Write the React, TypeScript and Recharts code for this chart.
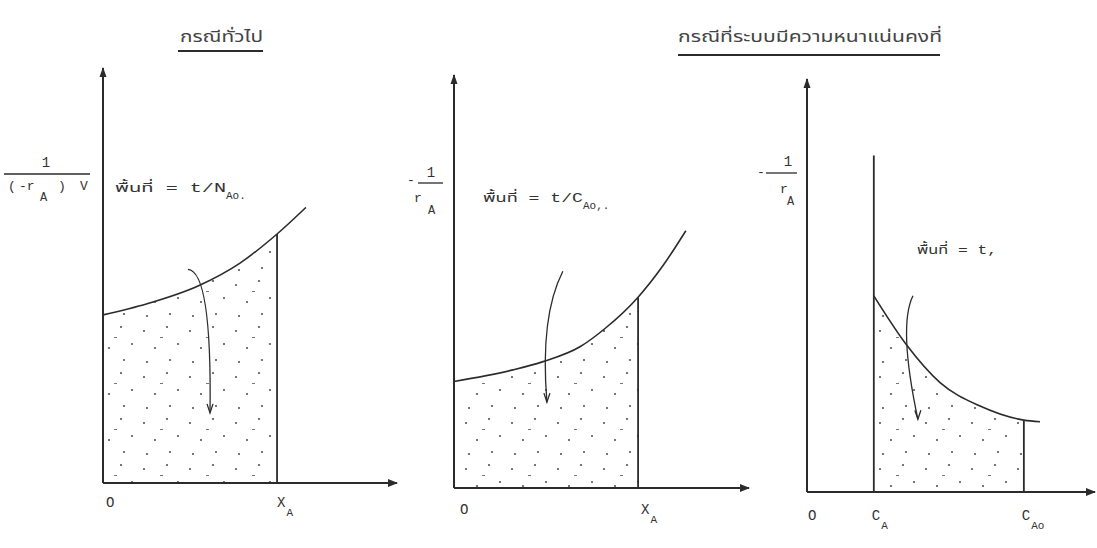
import React from 'react';
import { ComposedChart, Area, Line, XAxis, YAxis, ReferenceLine, ReferenceDot } from 'recharts';

const WIDTH = 1097;
const HEIGHT = 548;
const INK = '#2b2b2b';
const TEXT = '#333';
const MONO = '"Liberation Mono", "DejaVu Sans Mono", "Noto Sans Thai", monospace';
const AXIS_BAND = 30;

// General case: 1/((-rA)V) against conversion XA
const generalConversion = [0, 15, 32.7, 46.6, 59.2, 69];
const generalInvRate = [40.5, 43.2, 47.6, 53.0, 60.0, 66.4];
const generalXA = 59.2;
const generalTickValues = [0, generalXA];
const generalTickLabels = [['O'], ['X', 'A']];
const generalArrow = [
  { x: 28.9, y: 51.5 },
  { x: 36.4, y: 16.9 },
];

// Constant density: -1/rA against conversion XA
const densityConversion = [0, 20, 30.2, 42.7, 51.5, 62.4, 70.8, 78.6];
const densityInvRate = [25.8, 28.6, 30.6, 34.2, 38.8, 46.2, 53.8, 62.3];
const densityXA = 62.4;
const densityTickValues = [0, densityXA];
const densityTickLabels = [['O'], ['X', 'A']];
const densityArrow = [
  { x: 36.9, y: 52.5 },
  { x: 31.5, y: 20.8 },
];

// Constant density: -1/rA against concentration CA
const concValues = [23.2, 34.6, 46.2, 60.1, 75.3, 80.9];
const concInvRate = [47.5, 35.6, 26.5, 20.8, 17.4, 17.0];
const concCA = 23.2;
const concCA0 = 75.3;
const concCALineTop = 81.5;
const concTickValues = [0, concCA, concCA0];
const concTickLabels = [['O'], ['C', 'A'], ['C', 'Ao']];
const concArrow = [
  { x: 36.8, y: 47.5 },
  { x: 38.5, y: 17.6 },
];

type Row = { x: number; curve: number; area?: number };

function buildRows(xs: number[], ys: number[], from: number, to: number): Row[] {
  return xs.map((x, i) => ({
    x,
    curve: ys[i],
    area: x >= from && x <= to ? ys[i] : undefined,
  }));
}

function valueAt(xs: number[], ys: number[], x: number): number {
  return ys[xs.indexOf(x)];
}

const rightHead = (p: any) => (
  <path d={`M${p.cx - 9},${p.cy - 4} L${p.cx + 1},${p.cy} L${p.cx - 9},${p.cy + 4} Z`} fill={INK} />
);
const upHead = (p: any) => (
  <path d={`M${p.cx - 3.5},${p.cy + 9} L${p.cx},${p.cy - 1} L${p.cx + 3.5},${p.cy + 9} Z`} fill={INK} />
);

// curved pointer drawn between the two ends of a reference segment
const curvedPointer = (bendX: number, bendY: number) => (p: any) => {
  const { x1, y1, x2, y2 } = p;
  if ([x1, y1, x2, y2].some((v) => typeof v !== 'number' || isNaN(v))) return <g />;
  return (
    <g>
      <path
        d={`M${x1},${y1} Q${x1 + bendX},${y1 + bendY} ${x2},${y2}`}
        fill="none"
        stroke={INK}
        strokeWidth={1.3}
      />
      <path d={`M${x2 - 3},${y2 - 9} L${x2},${y2} L${x2 + 3},${y2 - 9}`} fill="none" stroke={INK} strokeWidth={1.3} />
    </g>
  );
};

const makeTick = (values: number[], labels: string[][], dx: number, dy: number) => (p: any) => {
  const idx = values.findIndex((v) => Math.abs(v - p.payload.value) < 1e-6);
  if (idx < 0) return <g />;
  const [main, sub] = labels[idx];
  return (
    <text x={p.x + dx + (idx === 0 ? 3 : 0)} y={p.y + dy} fontFamily={MONO} fontSize={14} fill={TEXT} textAnchor="start">
      {main}
      {sub && (
        <tspan dy={9} dx={1} fontSize={11}>
          {sub}
        </tspan>
      )}
    </text>
  );
};

type PanelProps = {
  rows: Row[];
  axisX: number;
  axisY: number;
  plotTop: number;
  plotRight: number;
  tickValues: number[];
  tickLabels: string[][];
  tickDx: number;
  tickDy: number;
  segments: { x1: number; y1: number; x2: number; y2: number }[];
  arrow: { x: number; y: number }[];
  bend: [number, number];
};

function Panel(props: PanelProps) {
  const { rows, axisX, axisY, plotTop, plotRight, tickValues, tickLabels, tickDx, tickDy, segments, arrow, bend } = props;
  const margin = {
    top: plotTop,
    right: WIDTH - plotRight,
    bottom: HEIGHT - axisY - AXIS_BAND,
    left: axisX - AXIS_BAND,
  };
  return (
    <div style={{ position: 'absolute', left: 0, top: 0 }}>
      <ComposedChart width={WIDTH} height={HEIGHT} data={rows} margin={margin}>
        <XAxis
          type="number"
          dataKey="x"
          domain={[0, 100]}
          ticks={tickValues}
          interval={0}
          tick={makeTick(tickValues, tickLabels, tickDx, tickDy)}
          tickLine={false}
          axisLine={{ stroke: INK, strokeWidth: 2 }}
          height={AXIS_BAND}
          allowDataOverflow
        />
        <YAxis
          type="number"
          domain={[0, 100]}
          tick={false}
          tickLine={false}
          axisLine={{ stroke: INK, strokeWidth: 2 }}
          width={AXIS_BAND}
          allowDataOverflow
        />
        <Area
          dataKey="area"
          type="monotone"
          stroke="none"
          fill="url(#stipple)"
          fillOpacity={1}
          isAnimationActive={false}
          connectNulls={false}
        />
        <Line dataKey="curve" type="monotone" stroke={INK} strokeWidth={1.6} dot={false} isAnimationActive={false} />
        {segments.map((s, i) => (
          <ReferenceLine
            key={i}
            segment={[
              { x: s.x1, y: s.y1 },
              { x: s.x2, y: s.y2 },
            ]}
            stroke={INK}
            strokeWidth={1.8}
            ifOverflow="visible"
          />
        ))}
        <ReferenceLine
          segment={[arrow[0], arrow[1]]}
          stroke={INK}
          ifOverflow="visible"
          shape={curvedPointer(bend[0], bend[1])}
        />
        <ReferenceDot x={100} y={0} r={0} ifOverflow="visible" shape={rightHead} />
        <ReferenceDot x={0} y={100} r={0} ifOverflow="visible" shape={upHead} />
      </ComposedChart>
    </div>
  );
}

const generalRows = buildRows(generalConversion, generalInvRate, 0, generalXA);
const densityRows = buildRows(densityConversion, densityInvRate, 0, densityXA);
const concRows = buildRows(concValues, concInvRate, concCA, concCA0);

function Labels() {
  const t = { fontFamily: MONO, fill: TEXT } as const;
  return (
    <svg width={WIDTH} height={HEIGHT} style={{ position: 'absolute', left: 0, top: 0, pointerEvents: 'none' }}>
      {/* headings */}
      <text x={180} y={42} fontSize={16} textLength={83} lengthAdjust="spacingAndGlyphs" fontFamily={MONO} fill="#444">
        กรณีทั่วไป
      </text>
      <line x1={178} y1={51} x2={263} y2={51} stroke={INK} strokeWidth={2} />
      <text x={678} y={42} fontSize={16} textLength={264} lengthAdjust="spacingAndGlyphs" fontFamily={MONO} fill="#444">
        กรณีที่ระบบมีความหนาแน่นคงที่
      </text>
      <line x1={678} y1={55} x2={940} y2={55} stroke={INK} strokeWidth={2} />

      {/* y-axis titles */}
      <text x={46} y={167} fontSize={14} textAnchor="middle" {...t}>1</text>
      <line x1={4} y1={174} x2={90} y2={174} stroke={INK} strokeWidth={1.3} />
      <text y={190} fontSize={13} {...t}>
        <tspan x={8}>(</tspan>
        <tspan x={19}>-r</tspan>
        <tspan x={40} dy={11} fontSize={12}>A</tspan>
        <tspan x={58} dy={-11}>)</tspan>
        <tspan x={80}>V</tspan>
      </text>

      <text x={407} y={184} fontSize={13} {...t}>-</text>
      <text x={431} y={177} fontSize={14} textAnchor="middle" {...t}>1</text>
      <line x1={418} y1={183} x2={443} y2={183} stroke={INK} strokeWidth={1.3} />
      <text x={414} y={202} fontSize={13} {...t}>r</text>
      <text x={428} y={214} fontSize={12} {...t}>A</text>

      <text x={757} y={176} fontSize={13} {...t}>-</text>
      <text x={788} y={166} fontSize={14} textAnchor="middle" {...t}>1</text>
      <line x1={766} y1={173} x2={797} y2={173} stroke={INK} strokeWidth={1.3} />
      <text x={780} y={193} fontSize={13} {...t}>r</text>
      <text x={787} y={205} fontSize={12} {...t}>A</text>

      {/* area annotations */}
      <text x={115} y={192} fontSize={13} {...t}>
        <tspan textLength={111} lengthAdjust="spacingAndGlyphs">พื้นที่ = t/N</tspan>
        <tspan dy={7} fontSize={11}>Ao.</tspan>
      </text>
      <text x={483} y={202} fontSize={13} {...t}>
        <tspan textLength={100} lengthAdjust="spacingAndGlyphs">พื้นที่ = t/C</tspan>
        <tspan dy={7} fontSize={11}>Ao,.</tspan>
      </text>
      <text x={917} y={254} fontSize={13} textLength={80} lengthAdjust="spacingAndGlyphs" {...t}>
        พื้นที่ = t,
      </text>
    </svg>
  );
}

export default function App() {
  return (
    <div style={{ position: 'absolute', left: 0, top: 0, width: WIDTH, height: HEIGHT, background: '#fff' }}>
      <svg width={0} height={0} style={{ position: 'absolute' }}>
        <defs>
          <pattern id="stipple" width={46} height={46} patternUnits="userSpaceOnUse">
            <circle cx={6} cy={9} r={1.1} fill="#555" />
            <circle cx={29} cy={5} r={1.1} fill="#555" />
            <circle cx={17} cy={26} r={1.1} fill="#555" />
            <circle cx={40} cy={22} r={1.1} fill="#555" />
            <circle cx={9} cy={40} r={1.1} fill="#555" />
            <circle cx={32} cy={38} r={1.1} fill="#555" />
            <rect x={22} y={15} width={3} height={1} fill="#777" />
          </pattern>
        </defs>
      </svg>
      <Panel
        rows={generalRows}
        axisX={103}
        axisY={483}
        plotTop={68}
        plotRight={397}
        tickValues={generalTickValues}
        tickLabels={generalTickLabels}
        tickDx={0}
        tickDy={16}
        segments={[{ x1: generalXA, y1: 0, x2: generalXA, y2: valueAt(generalConversion, generalInvRate, generalXA) }]}
        arrow={generalArrow}
        bend={[24, 2]}
      />
      <Panel
        rows={densityRows}
        axisX={454}
        axisY={488}
        plotTop={75}
        plotRight={749}
        tickValues={densityTickValues}
        tickLabels={densityTickLabels}
        tickDx={3}
        tickDy={18}
        segments={[{ x1: densityXA, y1: 0, x2: densityXA, y2: valueAt(densityConversion, densityInvRate, densityXA) }]}
        arrow={densityArrow}
        bend={[-23, 45]}
      />
      <Panel
        rows={concRows}
        axisX={807}
        axisY={492}
        plotTop={79}
        plotRight={1095}
        tickValues={concTickValues}
        tickLabels={concTickLabels}
        tickDx={-2}
        tickDy={20}
        segments={[
          { x1: concCA, y1: 0, x2: concCA, y2: concCALineTop },
          { x1: concCA0, y1: 0, x2: concCA0, y2: valueAt(concValues, concInvRate, concCA0) },
        ]}
        arrow={concArrow}
        bend={[-15, 30]}
      />
      <Labels />
    </div>
  );
}
